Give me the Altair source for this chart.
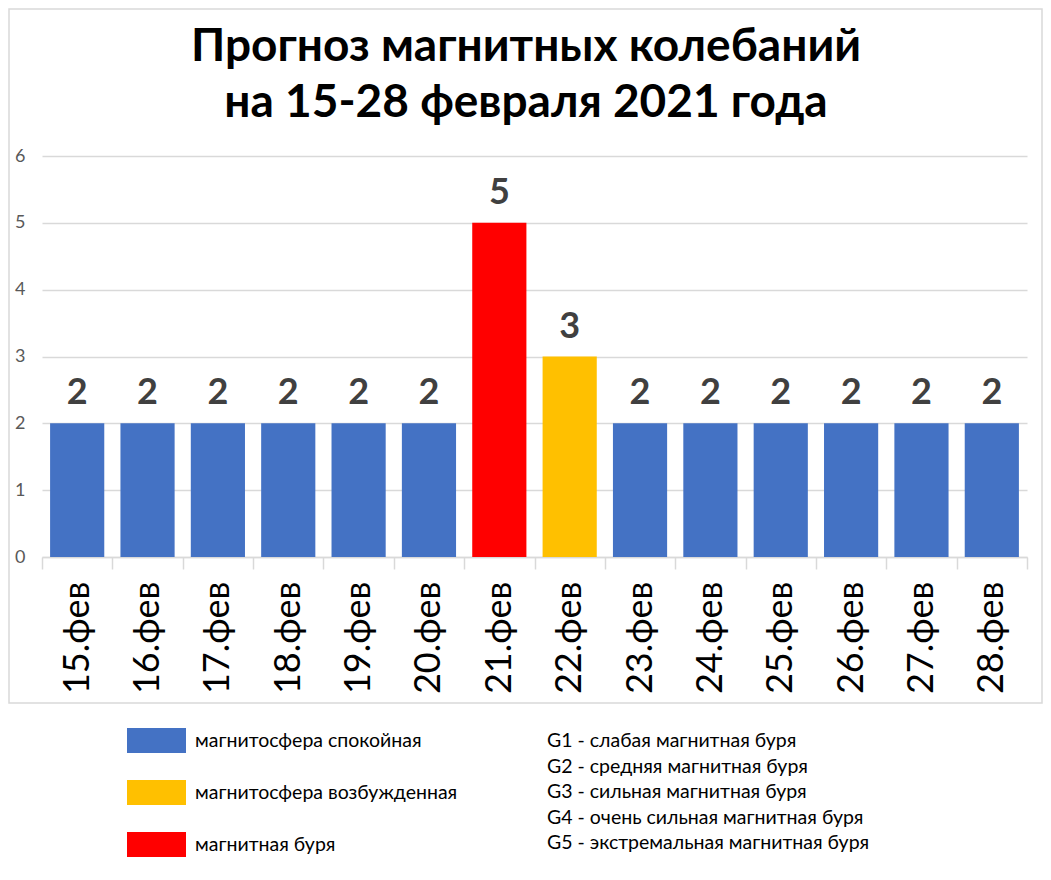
import altair as alt
import pandas as pd

days = ["15.фев", "16.фев", "17.фев", "18.фев", "19.фев", "20.фев", "21.фев",
        "22.фев", "23.фев", "24.фев", "25.фев", "26.фев", "27.фев", "28.фев"]
values = [2, 2, 2, 2, 2, 2, 5, 3, 2, 2, 2, 2, 2, 2]
statuses = ["магнитосфера спокойная"] * 6 + ["магнитная буря", "магнитосфера возбужденная"] + ["магнитосфера спокойная"] * 6
status_order = ["магнитосфера спокойная", "магнитосфера возбужденная", "магнитная буря"]
status_colors = ["#4472C4", "#FFC000", "#FF0000"]
g_lines = ["G1 - слабая магнитная буря", "G2 - средняя магнитная буря",
           "G3 - сильная магнитная буря", "G4 - очень сильная магнитная буря",
           "G5 - экстремальная магнитная буря"]
title_lines = ["Прогноз магнитных колебаний", "на 15-28 февраля 2021 года"]

FONT = "Lato"
df = pd.DataFrame({"day": days, "value": values, "status": statuses})

x = alt.X("day:N", sort=days, title=None,
          scale=alt.Scale(paddingInner=0, paddingOuter=0),
          axis=alt.Axis(labelAngle=270, labelFontSize=36, labelFont=FONT, labelColor="black",
                        tickBand="extent", tickSize=12, tickColor="#D9D9D9", tickWidth=1.5,
                        domainColor="#D9D9D9", domainWidth=1.5, labelPadding=12, grid=False))
y = alt.Y("value:Q", title=None,
          scale=alt.Scale(domain=[0, 6]),
          axis=alt.Axis(values=[0, 1, 2, 3, 4, 5, 6], format="d", labelFontSize=18, labelFont=FONT,
                        labelColor="#595959", domain=False, ticks=False, labelPadding=17,
                        gridColor="#D9D9D9", gridWidth=1.5))

bars = alt.Chart(df).mark_bar(width=alt.RelativeBandSize(0.77)).encode(
    x=x, y=y,
    color=alt.Color("status:N", scale=alt.Scale(domain=status_order, range=status_colors),
                    legend=alt.Legend(title=None, orient="none", legendX=85, legendY=555,
                                      symbolType="M-1,-0.4237H1V0.4237H-1Z", symbolSize=3481,
                                      symbolStrokeWidth=0, labelFontSize=19.5, labelFont=FONT,
                                      labelColor="black", labelOffset=9, rowPadding=10,
                                      padding=0, labelLimit=400))
)

labels = alt.Chart(df).mark_text(fontSize=36, font=FONT, fontWeight="bold", color="#404040",
                                 baseline="alphabetic", dy=-19).encode(
    x=alt.X("day:N", sort=days), y="value:Q", text="value:Q")

gdf = pd.DataFrame({"t": ["\n".join(g_lines)]})
gtext = alt.Chart(gdf).mark_text(fontSize=19.5, font=FONT, color="black", align="left",
                                 baseline="middle", lineBreak="\n", lineHeight=25.5).encode(
    x=alt.value(505), y=alt.value(585), text="t:N")

t1 = alt.Chart(pd.DataFrame({"t": [title_lines[0]]})).mark_text(
    fontSize=46, font=FONT, fontWeight="bold", color="black", align="center", baseline="alphabetic").encode(
    x=alt.value(484), y=alt.value(-95), text="t:N")
t2 = alt.Chart(pd.DataFrame({"t": [title_lines[1]]})).mark_text(
    fontSize=46, font=FONT, fontWeight="bold", color="black", align="center", baseline="alphabetic").encode(
    x=alt.value(484), y=alt.value(-39), text="t:N")

border = alt.Chart(pd.DataFrame({"a": [0]})).mark_rect(fill=None, stroke="#D9D9D9", strokeWidth=1.5).encode(
    x=alt.value(-33), x2=alt.value(1000), y=alt.value(-147), y2=alt.value(547))

chart = alt.layer(border, bars, labels, gtext, t1, t2).properties(
    width=985, height=401,
    autosize=alt.AutoSizeParams(type="none"),
    padding={"left": 34, "top": 148, "right": 16, "bottom": 315},
).configure_view(stroke=None)

chart.save("out.html", embed_options={"renderer": "svg", "actions": False})
